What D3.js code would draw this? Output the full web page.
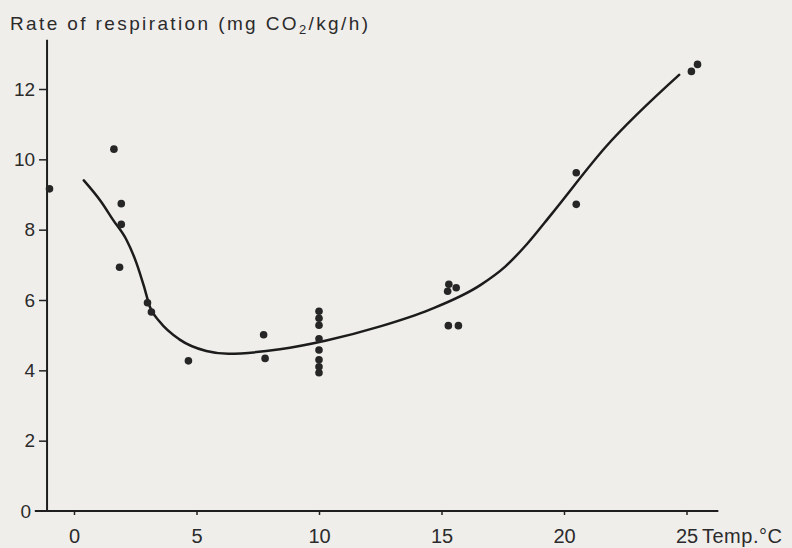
<!DOCTYPE html>
<html>
<head>
<meta charset="utf-8">
<script src="https://cdn.jsdelivr.net/npm/d3@7"></script>
<style>
  body { margin: 0; background: #f0eeeb; }
  svg { display: block; font-family: "Liberation Sans", Arial, sans-serif; }
  .axis text { fill: #2b2b2b; }
  .axis line { stroke: #222; stroke-width: 1.5; }
</style>
</head>
<body>
<svg></svg>
<script>
const svgWidth = 792, svgHeight = 548

// measured points: temperature (°C), respiration rate
const tempPoints = [-1, 1.63, 1.93, 1.93, 1.86, 3.0, 3.16, 4.67, 7.74, 7.8,
  10, 10, 10, 10, 10, 10, 10, 10,
  15.3, 15.25, 15.6, 15.28, 15.69, 20.5, 20.5, 25.2, 25.45]
const ratePoints = [9.16, 10.29, 8.74, 8.15, 6.93, 5.92, 5.66, 4.27, 5.01, 4.34,
  5.68, 5.48, 5.28, 4.9, 4.58, 4.3, 4.1, 3.93,
  6.45, 6.25, 6.35, 5.27, 5.27, 9.62, 8.72, 12.5, 12.7]

// fitted curve
const curveTemp = [0.4, 1.1, 1.6, 2.15, 2.55, 2.85, 3.1, 3.5, 4.3, 5.4, 6.3, 8.4, 10.3, 12.5, 14.5, 16.6, 17.6, 18.5, 19.5, 21.7, 24.7]
const curveRate = [9.4, 8.8, 8.27, 7.7, 7.05, 6.4, 5.8, 5.38, 4.88, 4.55, 4.47, 4.6, 4.85, 5.25, 5.72, 6.43, 6.95, 7.6, 8.45, 10.35, 12.4]

const xTicks = [0, 5, 10, 15, 20, 25]
const yTicks = [0, 2, 4, 6, 8, 10, 12]

const x = d3.scaleLinear().domain([0, 25]).range([74, 686.5])
const y = d3.scaleLinear().domain([0, 12]).range([511, 89])

const svg = d3.select("svg")
  .attr("width", svgWidth)
  .attr("height", svgHeight)

// axis lines (drawn past the tick range like the original)
svg.append("line")
  .attr("x1", x(-1.1)).attr("x2", x(-1.1))
  .attr("y1", y(13.4)).attr("y2", y(0) + 1)
  .attr("stroke", "#1e1e1e").attr("stroke-width", 2)
svg.append("line")
  .attr("x1", x(-1.6)).attr("x2", x(26.3))
  .attr("y1", y(0)).attr("y2", y(0))
  .attr("stroke", "#1e1e1e").attr("stroke-width", 2)

const yAxis = svg.append("g")
  .attr("class", "axis")
  .attr("transform", `translate(${x(-1.1)},0)`)
  .style("font-size", "19px")
  .call(d3.axisLeft(y).tickValues(yTicks.filter(d => d > 0)).tickSize(8).tickPadding(4))
yAxis.select(".domain").remove()
yAxis.selectAll("text").attr("font-size", null)

// the zero label sits a little lower/left at the corner
svg.append("text")
  .attr("x", 31).attr("y", y(0) + 7)
  .attr("text-anchor", "end")
  .attr("fill", "#2b2b2b").style("font-size", "19px")
  .text(yTicks[0])

const xAxis = svg.append("g")
  .attr("class", "axis")
  .attr("transform", `translate(0,${y(0)})`)
  .call(d3.axisBottom(x).tickValues(xTicks).tickSize(4).tickPadding(14))
xAxis.select(".domain").remove()
xAxis.attr("font-size", null).style("font-size", "20px")
xAxis.selectAll("line").attr("stroke-width", 1)

const xLabelY = y(0) + 32
svg.append("text")
  .attr("x", 702).attr("y", xLabelY)
  .attr("fill", "#2b2b2b").style("font-size", "20px")
  .attr("letter-spacing", 0.5)
  .text("Temp.°C")

// y title
const title = svg.append("text")
  .attr("x", 10).attr("y", 30)
  .attr("fill", "#2b2b2b").style("font-size", "19px")
  .attr("textLength", 358).attr("lengthAdjust", "spacing")
title.append("tspan").text("Rate of respiration (mg CO")
title.append("tspan").attr("dy", 4).style("font-size", "13px").text("2")
title.append("tspan").attr("dy", -4).text("/kg/h)")

// curve
const line = d3.line()
  .x(d => x(d[0]))
  .y(d => y(d[1]))
  .curve(d3.curveMonotoneX)

svg.append("path")
  .datum(d3.zip(curveTemp, curveRate))
  .attr("d", line)
  .attr("fill", "none")
  .attr("stroke", "#1c1c1c")
  .attr("stroke-width", 2.5)
  .attr("stroke-linecap", "round")

// points
svg.append("g")
  .selectAll("circle")
  .data(d3.zip(tempPoints, ratePoints))
  .join("circle")
  .attr("cx", d => x(d[0]))
  .attr("cy", d => y(d[1]))
  .attr("r", 3.8)
  .attr("fill", "#262626")
</script>
</body>
</html>
